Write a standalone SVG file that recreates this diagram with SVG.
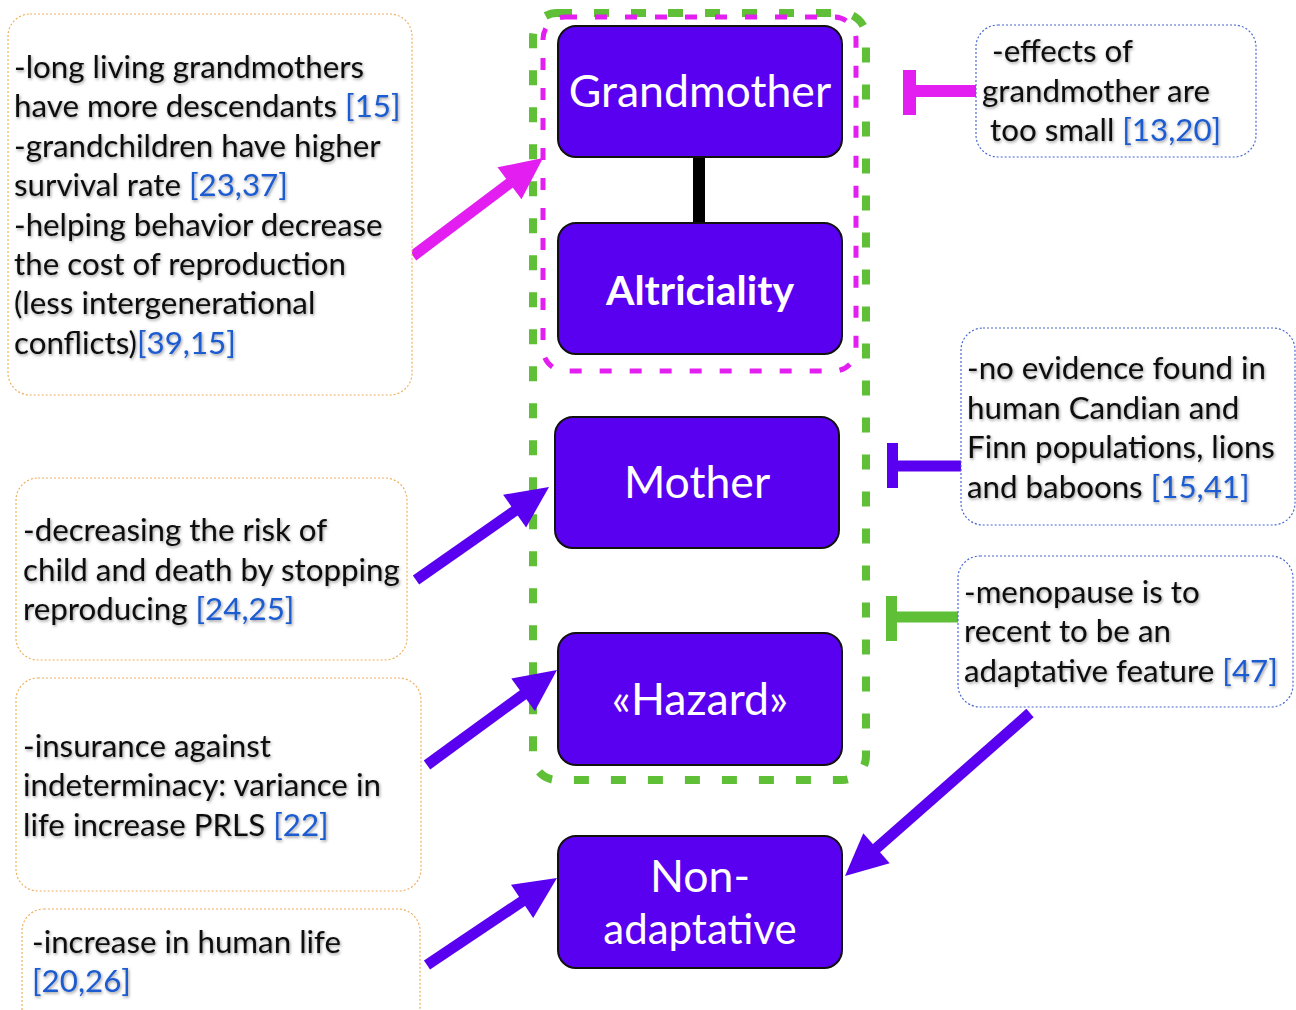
<svg xmlns="http://www.w3.org/2000/svg" width="1296" height="1010" viewBox="0 0 1296 1010">
<defs>
<filter id="sh" x="-5%" y="-20%" width="110%" height="140%">
<feDropShadow dx="1" dy="1.5" stdDeviation="1.6" flood-color="#000" flood-opacity="0.4"/>
</filter>
</defs>
<style>
.note-o{fill:#fff;stroke:#f0b060;stroke-width:1.2;stroke-dasharray:2 2}
.note-b{fill:#fff;stroke:#4a68d0;stroke-width:1.2;stroke-dasharray:2 2}
.t{font-family:Lato,"Open Sans","Liberation Sans",sans-serif;font-size:31.3px;fill:#111}
.ref{fill:#1f5bd1}
.node{fill:#5a00f0;stroke:#111;stroke-width:2}
.nt{font-family:Lato,"Open Sans","Liberation Sans",sans-serif;font-size:44.6px;fill:#fff;text-anchor:middle}
</style>
<rect width="1296" height="1010" fill="#fff"/>

<g id="groups">
<rect x="533" y="13" width="333" height="767" rx="24" fill="none" stroke="#5fbf37" stroke-width="8" stroke-dasharray="15 22"/>
<rect x="543" y="17" width="313" height="354" rx="22" fill="none" stroke="#e31ef0" stroke-width="5" stroke-dasharray="12 18"/>
</g>

<g id="connectors">
<line x1="699" y1="157" x2="699" y2="224" stroke="#000" stroke-width="12"/>
<line x1="413" y1="256" x2="514.3" y2="179.7" stroke="#e31ef0" stroke-width="11"/>
<polygon points="543,158 521.5,199.3 497.5,167.3" fill="#e31ef0"/>
<line x1="416" y1="580" x2="519.5" y2="507.6" stroke="#5a00f0" stroke-width="11"/>
<polygon points="549,487 526.1,527.5 503.1,494.7" fill="#5a00f0"/>
<line x1="427" y1="765" x2="527.9" y2="691.2" stroke="#5a00f0" stroke-width="11"/>
<polygon points="557,670 534.9,711 511.3,678.6" fill="#5a00f0"/>
<line x1="427" y1="965" x2="527.1" y2="898" stroke="#5a00f0" stroke-width="11"/>
<polygon points="557,878 533.2,918 511,884.8" fill="#5a00f0"/>
<line x1="1030" y1="713" x2="872" y2="852.2" stroke="#5a00f0" stroke-width="11"/>
<polygon points="845,876 889.7,863.2 863.3,833.2" fill="#5a00f0"/>
<line x1="910" y1="91" x2="977" y2="91" stroke="#e31ef0" stroke-width="12"/>
<rect x="903" y="70" width="13" height="45" fill="#e31ef0"/>
<line x1="893" y1="466" x2="962" y2="466" stroke="#5a00f0" stroke-width="11"/>
<rect x="887" y="443" width="11" height="45" fill="#5a00f0"/>
<line x1="892" y1="617" x2="959" y2="617" stroke="#5fbf37" stroke-width="11"/>
<rect x="886" y="596" width="11" height="45" fill="#5fbf37"/>
</g>

<g id="node-grandmother">
<rect class="node" x="558" y="26" width="284" height="131" rx="18"/>
<text class="nt" x="700" y="107">Grandmother</text>
</g>
<g id="node-altriciality">
<rect class="node" x="558" y="223" width="284" height="131" rx="18"/>
<text class="nt" x="700" y="305" style="font-weight:bold;font-size:41px">Altriciality</text>
</g>
<g id="node-mother">
<rect class="node" x="555" y="417" width="284" height="131" rx="18"/>
<text class="nt" x="697" y="498">Mother</text>
</g>
<g id="node-hazard">
<rect class="node" x="558" y="633" width="284" height="132" rx="18"/>
<text class="nt" x="700" y="715">«Hazard»</text>
</g>
<g id="node-nonadaptative">
<rect class="node" x="558" y="836" width="284" height="132" rx="18"/>
<text class="nt" x="700" y="892">Non-</text>
<text class="nt" x="700" y="944" style="font-size:42px">adaptative</text>
</g>

<g id="note-left-1">
<rect class="note-o" x="8" y="14" width="404" height="381" rx="22"/>
<g class="t" filter="url(#sh)">
<text x="14" y="78">-long living grandmothers</text>
<text x="14" y="117">have more descendants <tspan class="ref">[15]</tspan></text>
<text x="14" y="157">-grandchildren have higher</text>
<text x="14" y="196">survival rate <tspan class="ref">[23,37]</tspan></text>
<text x="14" y="236">-helping behavior decrease</text>
<text x="14" y="275">the cost of reproduction</text>
<text x="14" y="314">(less intergenerational</text>
<text x="14" y="354">conflicts)<tspan class="ref">[39,15]</tspan></text>
</g>
</g>
<g id="note-left-2">
<rect class="note-o" x="16" y="478" width="391" height="182" rx="22"/>
<g class="t" filter="url(#sh)">
<text x="23" y="541">-decreasing the risk of</text>
<text x="23" y="581">child and death by stopping</text>
<text x="23" y="620">reproducing <tspan class="ref">[24,25]</tspan></text>
</g>
</g>
<g id="note-left-3">
<rect class="note-o" x="16" y="678" width="405" height="213" rx="22"/>
<g class="t" filter="url(#sh)">
<text x="23" y="757">-insurance against</text>
<text x="23" y="796">indeterminacy: variance in</text>
<text x="23" y="836">life increase PRLS <tspan class="ref">[22]</tspan></text>
</g>
</g>
<g id="note-left-4">
<rect class="note-o" x="22" y="909" width="398" height="130" rx="22"/>
<g class="t" filter="url(#sh)">
<text x="32" y="953">-increase in human life</text>
<text x="32" y="992" class="ref">[20,26]</text>
</g>
</g>

<g id="note-right-1">
<rect class="note-b" x="976" y="25" width="280" height="132" rx="22"/>
<g class="t" filter="url(#sh)">
<text x="992" y="62">-effects of</text>
<text x="982" y="102">grandmother are</text>
<text x="990" y="141">too small <tspan class="ref">[13,20]</tspan></text>
</g>
</g>
<g id="note-right-2">
<rect class="note-b" x="961" y="328" width="334" height="197" rx="22"/>
<g class="t" filter="url(#sh)">
<text x="967" y="379">-no evidence found in</text>
<text x="967" y="419">human Candian and</text>
<text x="967" y="458">Finn populations, lions</text>
<text x="967" y="498">and baboons <tspan class="ref">[15,41]</tspan></text>
</g>
</g>
<g id="note-right-3">
<rect class="note-b" x="958" y="556" width="335" height="151" rx="22"/>
<g class="t" filter="url(#sh)">
<text x="964" y="603">-menopause is to</text>
<text x="964" y="642">recent to be an</text>
<text x="964" y="682">adaptative feature <tspan class="ref">[47]</tspan></text>
</g>
</g>
</svg>
